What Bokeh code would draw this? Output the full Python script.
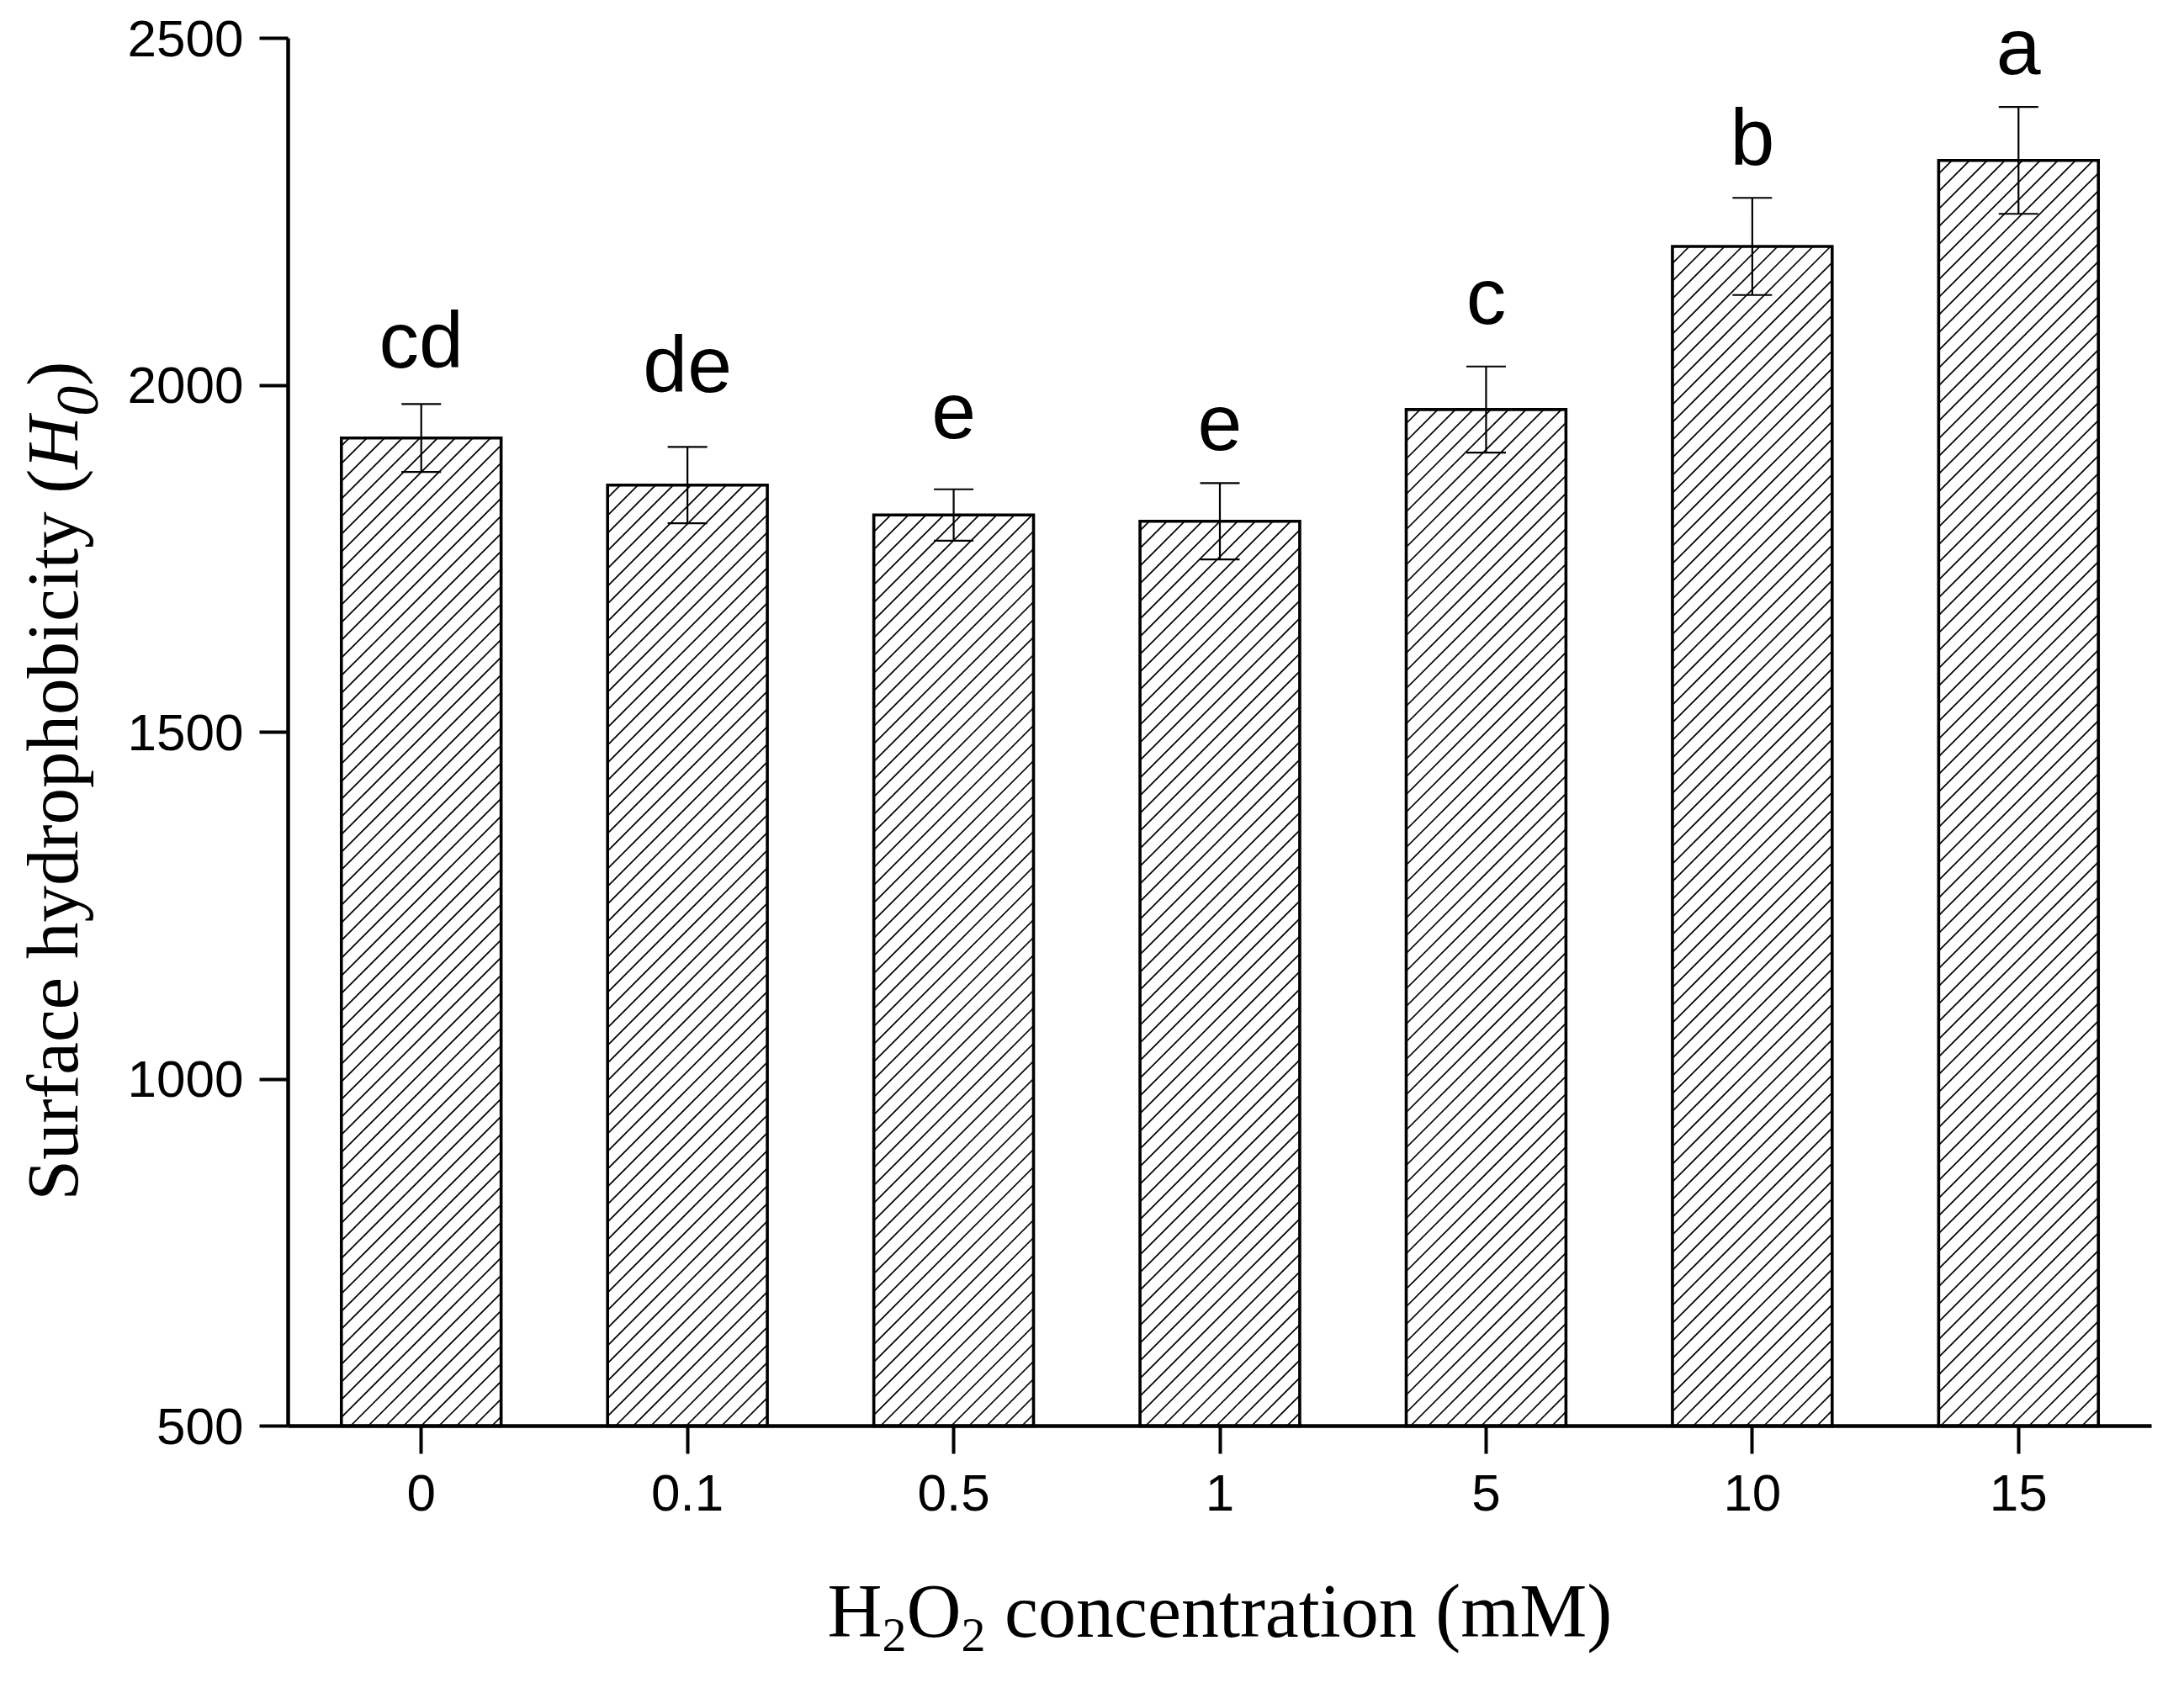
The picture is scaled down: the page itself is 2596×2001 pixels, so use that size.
import math
from bokeh.plotting import figure
from bokeh.models import (ColumnDataSource, FixedTicker, Whisker, TeeHead,
                          Label, LabelSet)
from bokeh.core.properties import value
from bokeh.embed import file_html
from bokeh.resources import INLINE

# ---- data ----
categories = ["0", "0.1", "0.5", "1", "5", "10", "15"]          # H2O2 (mM)
h0_mean = [1924, 1856, 1813, 1804, 1965, 2200, 2324]          # surface hydrophobicity
h0_err = [49, 55, 37, 55, 62, 70, 77]                         # error (SD)
letters = ["cd", "de", "e", "e", "c", "b", "a"]               # significance letters
letter_y = [2026, 1990, 1924, 1907, 2088, 2318, 2449]         # letter baseline (data units)
y_ticks = [500, 1000, 1500, 2000, 2500]
y_lo, y_hi = 500, 2500

xs = list(range(len(categories)))
BAR_W = 0.6
src = ColumnDataSource(dict(
    x=xs,
    top=h0_mean,
    upper=[m + e for m, e in zip(h0_mean, h0_err)],
    lower=[m - e for m, e in zip(h0_mean, h0_err)],
))
lab_src = ColumnDataSource(dict(x=xs, y=letter_y, text=letters))

# ---- layout (pixels inside the figure) ----
W, H = 2580, 1985
AX_L, AX_R = 342, 2557      # x = -0.5 and x = n-0.5
AX_T, AX_B = 45, 1695       # y = 2500 and y = 500
x0, x1 = -0.5, len(categories) - 0.5
xpp = (x1 - x0) / (AX_R - AX_L)
ypp = (y_hi - y_lo) / (AX_B - AX_T)
x_range = (x0 - AX_L * xpp, x1 + (W - AX_R) * xpp)
y_range = (y_lo - (H - AX_B) * ypp, y_hi + AX_T * ypp)

p = figure(width=W, height=H, x_range=x_range, y_range=y_range,
           output_backend="svg", toolbar_location=None,
           min_border_left=0, min_border_right=0,
           min_border_top=0, min_border_bottom=0)
p.xgrid.visible = False
p.ygrid.visible = False
p.outline_line_color = None
p.background_fill_color = "white"
p.border_fill_color = "white"

# ---- bars: white fill, 45-degree hatch derived from the bar data, outline ----
p.vbar(x="x", top="top", bottom=y_lo, width=BAR_W, source=src,
       fill_color="white", line_color=None)

HATCH = 21.0   # px between hatch lines (horizontal)
hx0, hy0, hx1, hy1 = [], [], [], []
to_px_x = lambda v: (v - x_range[0]) / xpp
to_px_y = lambda v: (v - y_range[0]) / ypp
for xc, top in zip(xs, h0_mean):
    L, R = to_px_x(xc - BAR_W / 2), to_px_x(xc + BAR_W / 2)
    B, T = to_px_y(y_lo), to_px_y(top)
    n0 = math.floor((B - R) / HATCH)
    n1 = math.ceil((T - L) / HATCH)
    for n in range(n0, n1 + 1):
        k = n * HATCH
        xa, xb = max(L, B - k), min(R, T - k)
        if xb - xa > 0.5:
            hx0.append(x_range[0] + xa * xpp)
            hy0.append(y_range[0] + (xa + k) * ypp)
            hx1.append(x_range[0] + xb * xpp)
            hy1.append(y_range[0] + (xb + k) * ypp)
p.segment(x0=hx0, y0=hy0, x1=hx1, y1=hy1, line_color="black", line_width=1.7)

p.vbar(x="x", top="top", bottom=y_lo, width=BAR_W, source=src,
       fill_color=None, line_color="black", line_width=3.6, line_join="miter")

w = Whisker(base="x", upper="upper", lower="lower", source=src,
            line_color="black", line_width=2.2, level="overlay",
            upper_head=TeeHead(size=47, line_color="black", line_width=2.2),
            lower_head=TeeHead(size=47, line_color="black", line_width=2.2))
p.add_layout(w)

p.add_layout(LabelSet(x="x", y="y", text="text", source=lab_src,
                      text_font=value("Liberation Sans"), text_font_size="95px",
                      text_align="center", text_baseline="alphabetic",
                      text_color="black"))

# ---- axes (fixed at the data origin) ----
for ax in (p.xaxis, p.yaxis):
    ax.axis_line_width = 4.5
    ax.axis_line_color = "black"
    ax.major_tick_line_width = 4
    ax.major_tick_line_color = "black"
    ax.major_tick_in = 0
    ax.minor_tick_line_color = None
    ax.major_label_text_font = "Liberation Sans"
    ax.major_label_text_font_size = "62px"
    ax.major_label_text_color = "black"
    ax.axis_label = None

p.yaxis.fixed_location = x0
p.yaxis.bounds = (y_lo, y_hi)
p.yaxis.ticker = FixedTicker(ticks=y_ticks)
p.yaxis.major_tick_out = 34
p.yaxis.major_label_standoff = 19
p.yaxis.major_label_overrides = {t: str(t) for t in y_ticks}

p.xaxis.fixed_location = y_lo
p.xaxis.bounds = (x0, x1)
p.xaxis.ticker = FixedTicker(ticks=xs)
p.xaxis.major_tick_out = 33
p.xaxis.major_label_standoff = 25
p.xaxis.major_label_overrides = {i: c for i, c in zip(xs, categories)}

# ---- axis titles composed of pieces (sub/italic) ----
TW = {' ': 250, '(': 333, ')': 333, '0': 500, '2': 500, 'H': 722, 'M': 889,
      'O': 722, 'S': 556, 'a': 444, 'b': 500, 'c': 444, 'd': 500, 'e': 444,
      'f': 333, 'h': 500, 'i': 278, 'm': 778, 'n': 500, 'o': 500, 'p': 500,
      'r': 333, 't': 278, 'u': 500, 'y': 500}

def tw(s, size):
    return sum(TW[c] for c in s) / 1000.0 * size

SERIF = "Liberation Serif"

# x title: H2O2 concentration (mM)   (text, size, baseline shift, advance before)
FX = 90
X_TITLE_DY = -220
xpieces = [("H", FX, 0, 0), ("2", 58, -28, 0), ("O", FX, 0, 0), ("2", 58, -28, 0),
           ("concentration (mM)", FX, 0, tw(" ", FX))]
total = sum(tw(t, s) + pre for t, s, _, pre in xpieces)
cur = -total / 2.0
xmid = (x0 + x1) / 2.0
for t, s, dy, pre in xpieces:
    cur += pre
    p.add_layout(Label(x=xmid, y=y_lo, x_offset=cur, y_offset=X_TITLE_DY + dy, text=t,
                       text_font=SERIF, text_font_size=f"{s}px",
                       text_align="left", text_baseline="alphabetic",
                       text_color="black"))
    cur += tw(t, s)

# y title: Surface hydrophobicity (H0)
FY = 87
Y_TITLE_DX = -280
ypieces = [("Surface hydrophobicity (", FY, 0, "normal"),
           ("H", FY, 0, "italic"),
           ("0", 72, 30, "italic"),
           (")", FY, 0, "normal")]
cur = 268.0
for t, s, dx, st in ypieces:
    p.add_layout(Label(x=x0, y=y_lo, x_offset=Y_TITLE_DX + dx, y_offset=cur, text=t,
                       angle=math.pi / 2,
                       text_font=SERIF, text_font_size=f"{s}px",
                       text_font_style=st,
                       text_align="left", text_baseline="alphabetic",
                       text_color="black"))
    cur += tw(t, s)

open("out.html", "w").write(file_html(p, INLINE))
